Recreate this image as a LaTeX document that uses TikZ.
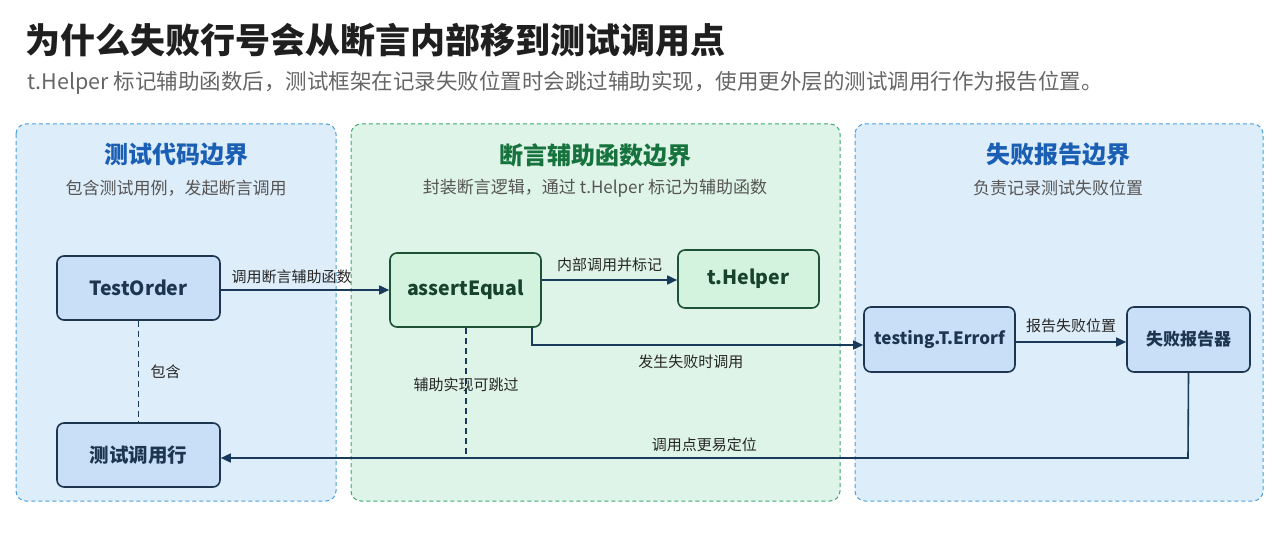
\documentclass[tikz,border=0pt]{standalone}
\usepackage{fontspec}
\setmainfont{Noto Sans CJK SC}
\usetikzlibrary{arrows.meta}
\definecolor{pblue}{HTML}{DDEDFA}
\definecolor{pbluebd}{HTML}{4A9FE0}
\definecolor{pgreen}{HTML}{DFF4E8}
\definecolor{pgreenbd}{HTML}{3DAA72}
\definecolor{nblue}{HTML}{C8DFF7}
\definecolor{nbluebd}{HTML}{1E3550}
\definecolor{ngreen}{HTML}{D3F3DF}
\definecolor{ngreenbd}{HTML}{1D5236}
\definecolor{tblue}{HTML}{1B5FB5}
\definecolor{tgreen}{HTML}{17733D}
\definecolor{line}{HTML}{1A3A5C}
\definecolor{sub}{HTML}{555555}
\begin{document}
\begin{tikzpicture}[x=1pt,y=-1pt,
  panel/.style={rounded corners=10pt,dashed,line width=1pt,dash pattern=on 4pt off 3pt},
  nd/.style={rounded corners=7pt,line width=1.6pt,font=\bfseries\fontsize{19.5}{22}\selectfont,text=nbluebd,inner sep=0pt},
  bn/.style={nd,fill=nblue,draw=nbluebd},
  gn/.style={nd,fill=ngreen,draw=ngreenbd,text=ngreenbd!80!black},
  ptitle/.style={font=\bfseries\fontsize{24}{28}\selectfont},
  psub/.style={font=\fontsize{17}{20}\selectfont,text=sub},
  lab/.style={font=\fontsize{15}{18}\selectfont,text=black!85},
  arr/.style={draw=line,line width=1.6pt,-{Triangle[length=10pt,width=9pt]}},
  dsh/.style={draw=line,line width=1.4pt,dash pattern=on 6pt off 4pt}]
\useasboundingbox (0,0) rectangle (1280,548);
\fill[white] (0,0) rectangle (1280,548);
\node[anchor=west,font=\bfseries\fontsize{35}{40}\selectfont,text=black!88] (title) at (22,40) {为什么失败行号会从断言内部移到测试调用点};
\node[anchor=west,font=\fontsize{21.5}{25}\selectfont,text=black!60] (subt) at (24,83) {t.Helper 标记辅助函数后，测试框架在记录失败位置时会跳过辅助实现，使用更外层的测试调用行作为报告位置。};
\draw[panel,fill=pblue,draw=pbluebd] (16,124) rectangle (336,501);
\draw[panel,fill=pgreen,draw=pgreenbd] (351,124) rectangle (840,501);
\draw[panel,fill=pblue,draw=pbluebd] (855,124) rectangle (1263,501);
\node[ptitle,text=tblue] (t1) at (176,155) {测试代码边界};
\node[psub] (s1) at (176,188) {包含测试用例，发起断言调用};
\node[ptitle,text=tgreen] (t2) at (595,155) {断言辅助函数边界};
\node[psub] (s2) at (595,188) {封装断言逻辑，通过 t.Helper 标记为辅助函数};
\node[ptitle,text=tblue] (t3) at (1058,155) {失败报告边界};
\node[psub] (s3) at (1058,188) {负责记录测试失败位置};
\node[bn,minimum width=163pt,minimum height=64pt] (to) at (138.5,288) {TestOrder};
\node[bn,minimum width=163pt,minimum height=64pt] (call) at (138.5,455) {测试调用行};
\node[gn,minimum width=151pt,minimum height=74pt] (ae) at (465.5,290) {assertEqual};
\node[gn,minimum width=141pt,minimum height=58pt] (th) at (748.5,279) {t.Helper};
\node[bn,minimum width=151pt,minimum height=65pt,font=\bfseries\fontsize{17}{20}\selectfont] (er) at (939.5,339.5) {testing.T.Errorf};
\node[bn,minimum width=123pt,minimum height=65pt,font=\bfseries\fontsize{17}{20}\selectfont] (rp) at (1188.5,339.5) {失败报告器};
\draw[arr] (to.east |- 0,290) -- (ae.west |- 0,290) node[pos=0.42,above=2pt,lab] {调用断言辅助函数};
\draw[arr] (ae.east |- 0,280) -- (th.west |- 0,280) node[midway,above=4pt,lab] {内部调用并标记};
\coordinate (c1) at (532,345);
\draw[arr] (ae.south -| c1) -- (c1) -- (er.west |- c1) node[pos=0.48,below=6pt,lab] {发生失败时调用};
\draw[arr] (er.east |- 0,342) -- (rp.west |- 0,342) node[midway,above=5pt,lab] {报告失败位置};
\coordinate (c2) at (1188,458);
\draw[arr] (rp.south) -- (c2) -- (call.east |- c2) node[pos=0.5,above=2pt,lab] {调用点更易定位};
\draw[dsh] (to.south) -- (call.north) node[midway,right=8pt,lab] {包含};
\coordinate (c3) at (466,455);
\draw[dsh] (ae.south -| c3) -- (c3) node[pos=0.45,lab] {辅助实现可跳过};
\end{tikzpicture}
\end{document}
